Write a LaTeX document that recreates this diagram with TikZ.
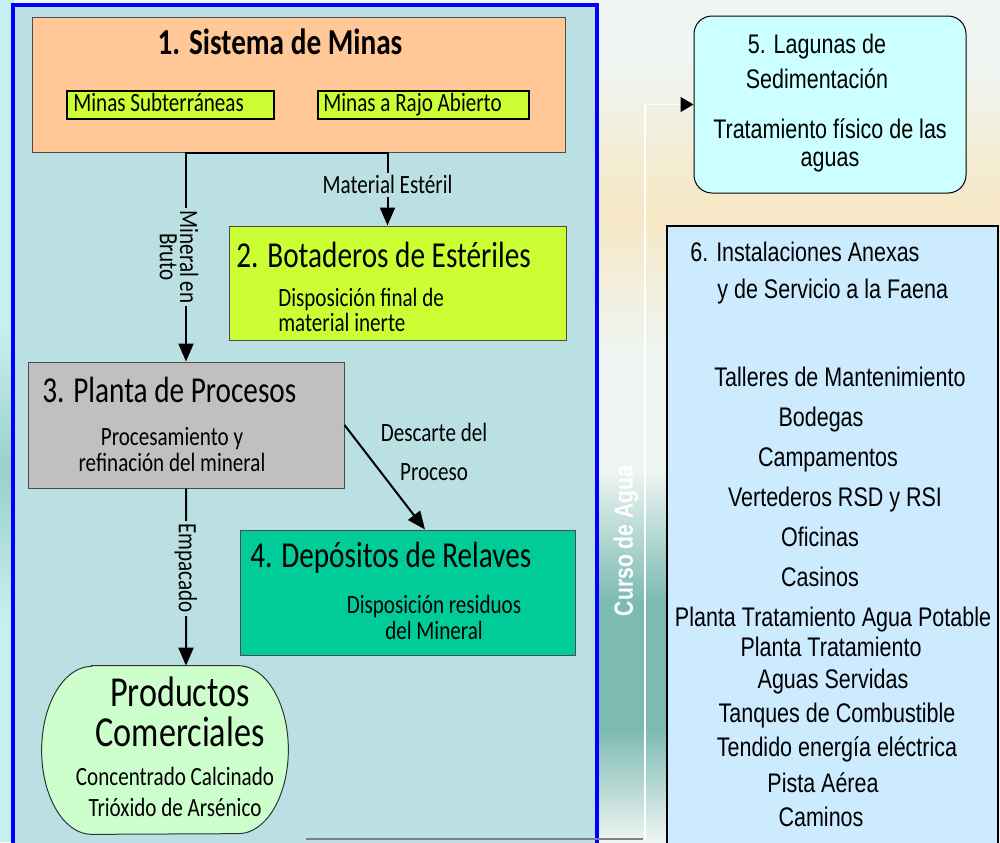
\documentclass[tikz,border=0pt]{standalone}
\usepackage{fontspec}
\setmainfont[FakeStretch=0.8]{Carlito}
\newfontfamily\arialn[FakeStretch=0.8]{Liberation Sans}
\usetikzlibrary{arrows.meta,calc}

\definecolor{peach}{HTML}{FFC896}
\definecolor{lime}{HTML}{CCFF33}
\definecolor{plantgray}{HTML}{C0C0C0}
\definecolor{tailings}{HTML}{00CC99}
\definecolor{mint}{HTML}{CCFFCC}
\definecolor{lagoon}{HTML}{CCFFFF}
\definecolor{annex}{HTML}{CCEBFF}
\definecolor{frame}{HTML}{BAE0E3}
\definecolor{paper}{HTML}{EEF5F3}
\definecolor{sand}{HTML}{F6E8C4}
\definecolor{stream}{HTML}{7DBBB2}
\definecolor{shore}{HTML}{C6EFEF}

\tikzset{
  px/.style 2 args={minimum width=#1*0.2mm, minimum height=#2*0.2mm},
  block/.style={draw=black!70, line width=0.2mm, inner sep=0pt},
  minebox/.style={draw=black, line width=0.35mm, fill=lime, inner sep=0pt},
  flow/.style={line width=0.4mm, -{Triangle[length=3.6mm,width=3mm]}},
  tag/.style={font=\fontsize{15}{17}\selectfont, fill=frame, inner sep=1.5pt, align=center},
  head/.style={font=\fontsize{20.8}{25}\selectfont, anchor=west, inner sep=0pt},
  note/.style={font=\fontsize{15}{15}\selectfont, inner sep=0pt},
  item/.style={font=\fontsize{15.3}{18}\arialn, inner sep=0pt, text height=11pt, text depth=0pt}
}

\begin{document}
\begin{tikzpicture}[x=0.2mm, y=-0.2mm]
  %%%%% BACKGROUND %%%%%
  \clip (0,0) rectangle (1000,842);
  \fill[paper] (0,0) rectangle (1000,842);
  \fill[shore] (0,0) rectangle (14,842);
  \shade[top color=shore, bottom color=stream!60!shore] (0,330) rectangle (14,470);
  \shade[top color=stream!60!shore, bottom color=shore] (0,470) rectangle (14,620);
  \shade[top color=paper, bottom color=sand] (597,60) rectangle (1000,210);
  \shade[top color=sand, bottom color=paper] (597,210) rectangle (1000,360);
  \shade[top color=paper, bottom color=stream] (599,470) rectangle (667,600);
  \fill[stream] (599,600) rectangle (667,730);
  \shade[top color=stream, bottom color=paper] (599,730) rectangle (667,842);

  \draw[blue, line width=0.7mm, fill=frame] (13,5) rectangle (597,870);

  %%%%% BOXES %%%%%
  \node[block, fill=peach, px={533}{135}] (b1) at (298.5,84.5) {};
  \node[minebox, px={207}{28}] (sub) at (170.5,105) {};
  \node[minebox, px={211}{28}] (pit) at (423.5,105) {};
  \node[block, fill=lime, px={337}{114}] (b2) at (397.5,283) {};
  \node[block, fill=plantgray, px={316}{126}] (b3) at (186,425) {};
  \node[block, fill=tailings, px={335}{125}] (b4) at (407.5,592.5) {};
  \node[inner sep=0pt, px={246}{168}] (prod) at (165,750) {};
  \draw[fill=mint, draw=black!80, line width=0.2mm]
    ([xshift=10mm]prod.north west) -- ([xshift=-10mm]prod.north east)
    arc[start angle=90, end angle=-90, x radius=10mm, y radius=16.8mm]
    -- ([xshift=10mm]prod.south west)
    arc[start angle=270, end angle=90, x radius=10mm, y radius=16.8mm] -- cycle;
  \node[draw=black, line width=0.2mm, fill=lagoon, rounded corners=3.6mm, px={272}{177}] (b5) at (830,104.5) {};
  \node[draw=black, line width=0.3mm, fill=annex, px={331}{640}] (b6) at (832.5,546) {};

  %%%%% TEXTS %%%%%
  \node[head, anchor=center, font=\bfseries\fontsize{20.8}{25}\selectfont] (t1) at (280,42) {1. Sistema de Minas};
  \node[note, anchor=base west] (tsub) at (73,111) {Minas Subterráneas};
  \node[note, anchor=base west] (tpit) at (323,111) {Minas a Rajo Abierto};

  \node[head] (t2) at (236,255) {2. Botaderos de Estériles};
  \node[note, anchor=west, align=left, font=\fontsize{15}{14.2}\selectfont] (n2) at (278,310) {Disposición final de\\material inerte};

  \node[head] (t3) at (42,390) {3. Planta de Procesos};
  \node[note, align=center, font=\fontsize{15}{14.8}\selectfont] (n3) at (172,450) {Procesamiento y\\refinación del mineral};

  \node[head] (t4) at (250,558) {4. Depósitos de Relaves};
  \node[note, align=center, font=\fontsize{15}{14.8}\selectfont] (n4) at (434,617) {Disposición residuos\\del Mineral};

  \node[note, align=center, font=\fontsize{24.3}{22.7}\selectfont] (tp) at (180,712) {Productos\\Comerciales};
  \node[note, align=center, font=\fontsize{15}{18.1}\selectfont] (np) at (175,792) {Concentrado Calcinado\\Trióxido de Arsénico};

  \node[note, align=center, font=\fontsize{15}{22.1}\selectfont] (disc) at (434,452) {Descarte del\\Proceso};

  \node[align=center, inner sep=0pt, font=\fontsize{15.3}{19.8}\arialn] (t5) at (817,61) {5. Lagunas de\\Sedimentación};
  \node[align=center, inner sep=0pt, font=\fontsize{15.3}{15.9}\arialn] (n5) at (830,145) {Tratamiento físico de las\\aguas};

  \node[item, anchor=west] (t6a) at (690,252) {6. Instalaciones Anexas};
  \node[item, anchor=west] (t6b) at (717,289) {y de Servicio a la Faena};
  \foreach \txt/\x/\y [count=\i] in {Talleres de Mantenimiento/840/377, Bodegas/821/417,
      Campamentos/828/457, Vertederos RSD y RSI/835/497, Oficinas/820/537, Casinos/820/577,
      Planta Tratamiento Agua Potable/833/617, Planta Tratamiento/831/647, Aguas Servidas/833/679,
      Tanques de Combustible/837/713, Tendido energía eléctrica/837/747, Pista Aérea/823/783,
      Caminos/821/817}
    \node[item] (fac\i) at (\x,\y) {\txt};

  %%%%% FLOWS %%%%%
  \draw[flow] (b1.south) -| node[tag, pos=0.75, xshift=-1.4mm, rotate=-90, font=\fontsize{15}{11.5}\selectfont] {Mineral en\\Bruto} (b3.north);
  \draw[flow] (b1.south) -| node[tag, pos=0.72] {Material Estéril} ([xshift=-2mm]b2.north);
  \draw[flow] (b3.east) -- ([xshift=3.5mm]b4.north);
  \draw[flow] (b3.south) -- node[tag, pos=0.45, rotate=-90] {Empacado} ([xshift=4.2mm]prod.north);

  %%%%% WATER %%%%%
  \coordinate (spring) at (645,842);
  \draw[white, line width=0.25mm, -{Triangle[black, length=2.6mm, width=3mm]}] (spring) |- (b5.west);
  \node[white, rotate=90, inner sep=0pt, font=\fontsize{15}{17}\bfseries\arialn] (curso) at (626,541) {Curso de Agua};
  \draw[gray, line width=0.4mm] (306,839) -- (643,839);
\end{tikzpicture}
\end{document}
